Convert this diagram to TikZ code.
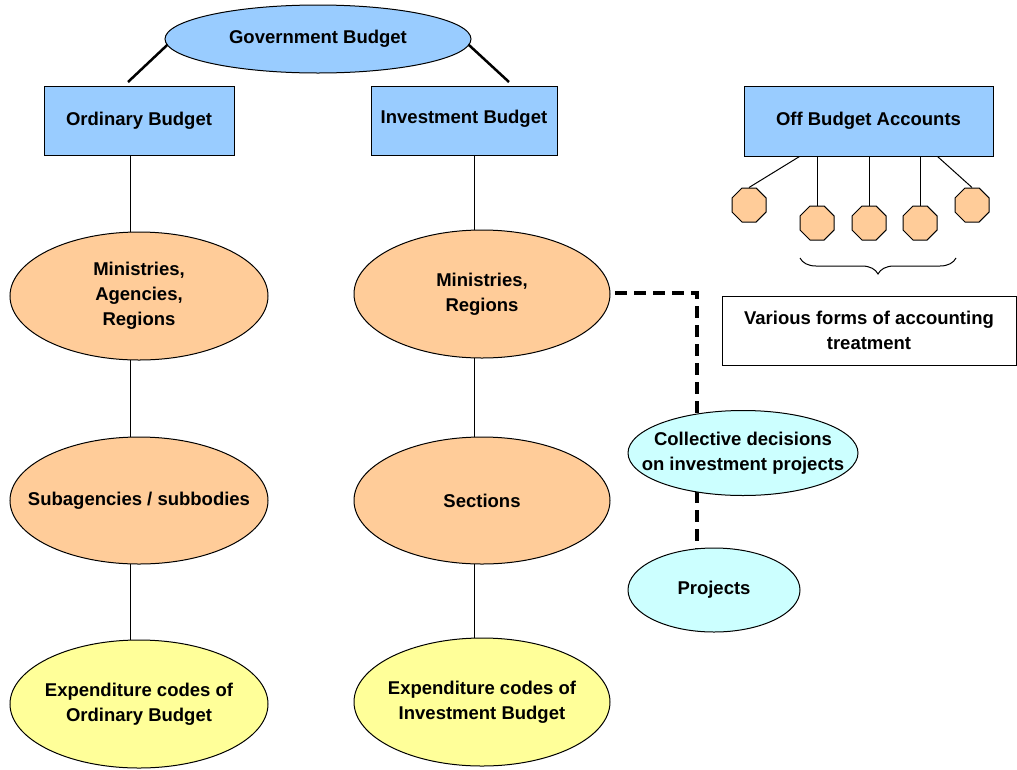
\documentclass[tikz,border=0pt]{standalone}
\usepackage{fontspec}
\setmainfont{Liberation Sans}
\usetikzlibrary{shapes.geometric,decorations.pathreplacing,backgrounds,calc}
\definecolor{boxblue}{HTML}{99CCFF}
\definecolor{peach}{HTML}{FFCC99}
\definecolor{paleyellow}{HTML}{FFFF99}
\definecolor{palecyan}{HTML}{CCFFFF}
\begin{document}
\begin{tikzpicture}[x=1pt,y=-1pt,
  lbl/.style={font=\bfseries\fontsize{18.5}{25}\selectfont, align=center, draw, line width=1pt, inner sep=0pt},
  bluebox/.style={lbl, rectangle, fill=boxblue},
  anyell/.style={lbl, ellipse, inner xsep=-40pt},
  bluell/.style={anyell, fill=boxblue},
  orell/.style={anyell, fill=peach, minimum height=128pt},
  yell/.style={anyell, fill=paleyellow, minimum height=128pt},
  cyell/.style={anyell, fill=palecyan},
  oct/.style={draw, line width=1pt, fill=peach, regular polygon, regular polygon sides=8, minimum size=36.8pt, inner sep=0pt},
  plainbox/.style={lbl, rectangle, fill=white},
  conn/.style={line width=1pt},
  topconn/.style={line width=2.5pt},
  dashconn/.style={line width=3.5pt, dash pattern=on 12pt off 7pt}
]
\useasboundingbox (0,0) rectangle (1017,769);

% main nodes
\node[bluell, minimum width=306pt, minimum height=68pt] (gov) at (318,39) {Government Budget};
\node[bluebox, minimum width=190pt, minimum height=69pt] (ob) at (139,120.5) {Ordinary Budget};
\node[bluebox, minimum width=186pt, minimum height=69pt, text depth=8pt] (ib) at (464,120.5) {Investment Budget};
\node[bluebox, minimum width=249pt, minimum height=70pt] (oba) at (868.5,121) {Off Budget Accounts};

\node[orell, minimum width=258pt] (mar) at (139,296) {Ministries,\\Agencies,\\Regions};
\node[orell, minimum width=256pt] (mr) at (482,294) {Ministries,\\Regions};
\node[orell, minimum width=258pt, minimum height=127pt] (sub) at (139,500.5) {Subagencies / subbodies};
\node[orell, minimum width=256pt, minimum height=127pt] (sec) at (482,500.5) {Sections};
\node[yell, minimum width=258pt] (eco) at (139,704) {Expenditure codes of\\Ordinary Budget};
\node[yell, minimum width=256pt] (eci) at (482,702) {Expenditure codes of\\Investment Budget};

\node[cyell, minimum width=230pt, minimum height=85pt] (col) at (743,453) {Collective decisions\\on investment projects};
\node[cyell, minimum width=172pt, minimum height=84pt] (proj) at (714,590) {Projects};

% octagons
\node[oct] (o1) at (749,205) {};
\node[oct] (o2) at (817,223) {};
\node[oct] (o3) at (869,223) {};
\node[oct] (o4) at (920,223) {};
\node[oct] (o5) at (972,205) {};

\node[plainbox, minimum width=294pt, minimum height=69pt] (var) at (869,330.5) {Various forms of accounting\\treatment};

% brace
\draw[line width=1pt, decorate, decoration={brace, amplitude=16pt, mirror}] (800,258) -- (956,258);

% free ends
\coordinate (lx) at (130,0);
\coordinate (rx) at (474,0);
\coordinate (ogt) at (128,82);
\coordinate (igt) at (509,82);
\coordinate (dk) at (697,293);

\begin{pgfonlayer}{background}
  \draw[topconn] ($(gov.west)+(8,1)$) -- (ogt);
  \draw[topconn] ($(gov.east)+(-8,1)$) -- (igt);

  \draw[conn] (ob.center -| lx) -- (mar.center -| lx);
  \draw[conn] (mar.center -| lx) -- (sub.center -| lx);
  \draw[conn] (sub.center -| lx) -- (eco.center -| lx);
  \draw[conn] (ib.center -| rx) -- (mr.center -| rx);
  \draw[conn] (mr.center -| rx) -- (sec.center -| rx);
  \draw[conn] (sec.center -| rx) -- (eci.center -| rx);

  \draw[dashconn] (mr.center |- dk) -- (dk) -- (col.center -| dk);
  \draw[dashconn] (col.center -| dk) -- (proj.center -| dk);

  \draw[conn] ($(oba.south west)+(56,0)$) -- (o1.north);
  \draw[conn] (oba.center -| o2) -- (o2.center);
  \draw[conn] (oba.center -| o3) -- (o3.center);
  \draw[conn] (oba.center -| o4) -- (o4.center);
  \draw[conn] ($(oba.south east)+(-56,0)$) -- (o5.north);
\end{pgfonlayer}
\end{tikzpicture}
\end{document}
